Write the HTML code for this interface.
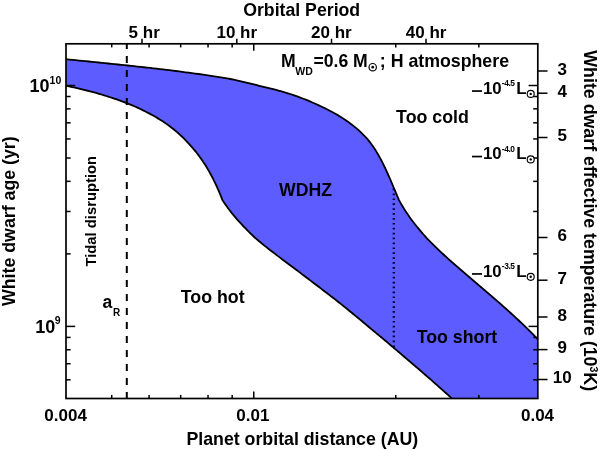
<!DOCTYPE html>
<html><head><meta charset="utf-8"><style>
html,body{margin:0;padding:0;background:#fff;}
svg{display:block;will-change:transform;}
text{font-family:"Liberation Sans",sans-serif;font-weight:bold;fill:#000;}
</style></head><body>
<svg width="600" height="449" viewBox="0 0 600 449">
<path d="M66.00,59.20 L69.28,59.54 L72.55,59.87 L75.82,60.20 L79.08,60.53 L82.35,60.86 L85.60,61.19 L88.86,61.52 L92.11,61.85 L95.36,62.18 L98.61,62.50 L101.85,62.83 L105.09,63.16 L108.33,63.49 L111.56,63.82 L114.80,64.16 L118.03,64.49 L121.25,64.83 L124.48,65.17 L127.70,65.51 L130.93,65.86 L134.15,66.21 L137.36,66.57 L140.58,66.92 L143.79,67.26 L147.01,67.61 L150.22,67.96 L153.43,68.32 L156.64,68.68 L159.85,69.05 L163.05,69.43 L166.26,69.81 L169.46,70.20 L172.67,70.60 L175.87,71.01 L179.08,71.42 L182.28,71.84 L185.48,72.27 L188.68,72.71 L191.89,73.14 L195.09,73.57 L198.29,74.01 L201.49,74.45 L204.70,74.91 L207.90,75.38 L211.10,75.86 L214.31,76.35 L217.51,76.85 L220.72,77.36 L223.92,77.89 L227.13,78.43 L230.34,79.00 L233.55,79.69 L236.76,80.40 L239.97,81.12 L243.19,81.86 L246.40,82.61 L249.62,83.37 L252.84,84.16 L256.05,84.96 L259.26,85.78 L262.47,86.53 L265.68,87.29 L268.88,88.06 L272.07,88.86 L275.26,89.69 L278.43,90.54 L281.60,91.42 L284.75,92.33 L287.89,93.27 L291.02,94.26 L294.13,95.33 L297.22,96.43 L300.30,97.56 L303.35,98.73 L306.39,99.94 L309.41,101.19 L312.40,102.47 L315.37,103.80 L318.31,105.17 L321.23,106.54 L324.12,107.89 L326.99,109.30 L329.82,110.74 L332.62,112.24 L335.39,113.79 L338.13,115.40 L340.83,117.05 L343.50,118.75 L346.13,120.50 L348.72,122.31 L351.26,124.19 L353.76,126.13 L356.21,128.14 L358.59,130.22 L360.92,132.35 L363.17,134.55 L365.35,136.82 L367.46,139.19 L369.49,141.63 L371.44,144.16 L373.31,146.82 L375.11,149.56 L376.85,152.36 L378.52,155.20 L380.12,158.07 L381.67,160.98 L383.16,163.90 L384.60,166.85 L386.00,169.81 L387.36,172.79 L388.69,175.77 L389.99,178.76 L391.27,181.75 L392.53,184.74 L393.78,187.73 L395.03,190.72 L396.28,193.69 L397.53,196.65 L398.80,199.60 L400.01,201.84 L401.26,204.08 L402.55,206.29 L403.87,208.47 L405.22,210.62 L406.61,212.75 L408.03,214.85 L409.48,216.92 L410.96,218.96 L412.47,220.99 L414.01,222.98 L415.58,224.97 L417.16,226.97 L418.78,228.94 L420.41,230.90 L422.07,232.83 L423.75,234.75 L425.45,236.65 L427.17,238.53 L428.90,240.40 L430.65,242.22 L432.42,243.97 L434.20,245.72 L436.00,247.45 L437.80,249.17 L439.62,250.88 L441.44,252.59 L443.27,254.28 L445.12,255.97 L446.96,257.66 L448.82,259.34 L450.67,261.00 L452.54,262.64 L454.41,264.28 L456.28,265.91 L458.16,267.54 L460.04,269.17 L461.92,270.79 L463.81,272.41 L465.70,274.03 L467.59,275.65 L469.48,277.26 L471.38,278.88 L473.28,280.49 L475.18,282.11 L477.08,283.73 L478.97,285.35 L480.87,286.97 L482.77,288.59 L484.67,290.21 L486.57,291.84 L488.46,293.46 L490.35,295.09 L492.25,296.72 L494.13,298.35 L496.02,299.99 L497.90,301.63 L499.78,303.27 L501.66,304.92 L503.53,306.58 L505.39,308.24 L507.26,309.91 L509.11,311.58 L510.96,313.26 L512.81,314.94 L514.64,316.63 L516.47,318.33 L518.30,320.03 L520.12,321.74 L521.92,323.46 L523.73,325.19 L525.52,326.92 L527.30,328.66 L529.08,330.41 L530.84,332.17 L532.60,333.94 L534.34,335.72 L536.07,337.51 L537.80,339.30 L538,398.5 L451.7,398.5 L451.70,398.31 L449.84,396.62 L447.98,394.95 L446.11,393.27 L444.25,391.59 L442.38,389.92 L440.50,388.25 L438.63,386.58 L436.75,384.91 L434.87,383.25 L432.99,381.59 L431.11,379.93 L429.22,378.27 L427.33,376.62 L425.44,374.97 L423.55,373.32 L421.65,371.67 L419.75,370.03 L417.85,368.39 L415.95,366.75 L414.04,365.11 L412.13,363.48 L410.22,361.85 L408.30,360.22 L406.38,358.60 L404.46,356.97 L402.54,355.32 L400.62,353.67 L398.69,352.03 L396.76,350.39 L394.82,348.76 L392.88,347.12 L390.94,345.47 L389.00,343.82 L387.05,342.17 L385.10,340.52 L383.15,338.88 L381.20,337.25 L379.24,335.61 L377.28,333.98 L375.31,332.35 L373.34,330.72 L371.37,329.10 L369.40,327.47 L367.42,325.80 L365.44,324.13 L363.46,322.47 L361.47,320.81 L359.48,319.16 L357.49,317.50 L355.49,315.86 L353.49,314.21 L351.48,312.57 L349.48,310.93 L347.46,309.30 L345.45,307.67 L343.43,306.04 L341.41,304.42 L339.39,302.80 L337.36,301.18 L335.33,299.57 L333.30,297.99 L331.26,296.43 L329.22,294.87 L327.18,293.31 L325.14,291.76 L323.10,290.20 L321.06,288.64 L319.02,287.09 L316.97,285.54 L314.93,283.98 L312.89,282.43 L310.84,280.88 L308.80,279.33 L306.75,277.77 L304.71,276.22 L302.67,274.66 L300.63,273.11 L298.59,271.55 L296.55,269.99 L294.52,268.44 L292.49,266.94 L290.46,265.44 L288.43,263.94 L286.40,262.44 L284.38,260.93 L282.36,259.41 L280.35,257.90 L278.34,256.38 L276.33,254.85 L274.33,253.32 L272.33,251.79 L270.33,250.25 L268.35,248.70 L266.36,247.15 L264.39,245.58 L262.42,243.99 L260.46,242.38 L258.52,240.77 L256.58,239.14 L254.66,237.47 L252.75,235.65 L250.86,233.82 L248.98,231.97 L247.13,230.11 L245.29,228.23 L243.47,226.33 L241.68,224.41 L239.91,222.47 L238.16,220.54 L236.44,218.59 L234.74,216.61 L233.08,214.61 L231.44,212.58 L229.83,210.52 L228.26,208.44 L226.71,206.33 L225.21,204.18 L223.73,202.01 L222.30,199.80 L221.56,197.87 L220.80,195.94 L220.02,194.02 L219.23,192.10 L218.41,190.20 L217.58,188.30 L216.73,186.41 L215.86,184.53 L214.97,182.65 L214.06,180.79 L213.13,178.94 L212.18,177.10 L211.21,175.27 L210.23,173.46 L209.22,171.66 L208.19,169.87 L207.14,168.09 L206.08,166.33 L204.99,164.58 L203.88,162.88 L202.75,161.19 L201.60,159.51 L200.43,157.86 L199.24,156.22 L198.03,154.60 L196.80,153.00 L195.55,151.41 L194.27,149.85 L192.98,148.31 L191.66,146.79 L190.32,145.29 L188.96,143.78 L187.58,142.27 L186.17,140.79 L184.75,139.33 L183.30,137.89 L181.83,136.47 L180.34,135.08 L178.83,133.71 L177.30,132.37 L175.75,131.04 L174.18,129.74 L172.59,128.46 L170.98,127.20 L169.36,125.98 L167.71,124.79 L166.05,123.63 L164.37,122.48 L162.68,121.36 L160.97,120.26 L159.24,119.18 L157.50,118.12 L155.74,117.08 L153.97,116.06 L152.19,115.06 L150.39,114.08 L148.57,113.12 L146.75,112.18 L144.91,111.24 L143.06,110.32 L141.20,109.41 L139.33,108.52 L137.44,107.65 L135.55,106.79 L133.65,105.96 L131.74,105.14 L129.81,104.34 L127.88,103.56 L125.94,102.79 L124.00,102.04 L122.04,101.31 L120.08,100.59 L118.11,99.89 L116.14,99.20 L114.16,98.54 L112.18,97.88 L110.19,97.24 L108.19,96.62 L106.19,96.01 L104.19,95.38 L102.19,94.76 L100.18,94.15 L98.17,93.55 L96.15,92.97 L94.14,92.40 L92.12,91.85 L90.11,91.31 L88.09,90.78 L86.07,90.27 L84.06,89.77 L82.04,89.28 L80.03,88.80 L78.02,88.34 L76.01,87.89 L74.00,87.45 L71.99,87.02 L69.99,86.60 L67.99,86.20 L66.00,85.80 Z" fill="#5c5cff" stroke="none"/>
<path d="M66.00,59.20 L69.28,59.54 L72.55,59.87 L75.82,60.20 L79.08,60.53 L82.35,60.86 L85.60,61.19 L88.86,61.52 L92.11,61.85 L95.36,62.18 L98.61,62.50 L101.85,62.83 L105.09,63.16 L108.33,63.49 L111.56,63.82 L114.80,64.16 L118.03,64.49 L121.25,64.83 L124.48,65.17 L127.70,65.51 L130.93,65.86 L134.15,66.21 L137.36,66.57 L140.58,66.92 L143.79,67.26 L147.01,67.61 L150.22,67.96 L153.43,68.32 L156.64,68.68 L159.85,69.05 L163.05,69.43 L166.26,69.81 L169.46,70.20 L172.67,70.60 L175.87,71.01 L179.08,71.42 L182.28,71.84 L185.48,72.27 L188.68,72.71 L191.89,73.14 L195.09,73.57 L198.29,74.01 L201.49,74.45 L204.70,74.91 L207.90,75.38 L211.10,75.86 L214.31,76.35 L217.51,76.85 L220.72,77.36 L223.92,77.89 L227.13,78.43 L230.34,79.00 L233.55,79.69 L236.76,80.40 L239.97,81.12 L243.19,81.86 L246.40,82.61 L249.62,83.37 L252.84,84.16 L256.05,84.96 L259.26,85.78 L262.47,86.53 L265.68,87.29 L268.88,88.06 L272.07,88.86 L275.26,89.69 L278.43,90.54 L281.60,91.42 L284.75,92.33 L287.89,93.27 L291.02,94.26 L294.13,95.33 L297.22,96.43 L300.30,97.56 L303.35,98.73 L306.39,99.94 L309.41,101.19 L312.40,102.47 L315.37,103.80 L318.31,105.17 L321.23,106.54 L324.12,107.89 L326.99,109.30 L329.82,110.74 L332.62,112.24 L335.39,113.79 L338.13,115.40 L340.83,117.05 L343.50,118.75 L346.13,120.50 L348.72,122.31 L351.26,124.19 L353.76,126.13 L356.21,128.14 L358.59,130.22 L360.92,132.35 L363.17,134.55 L365.35,136.82 L367.46,139.19 L369.49,141.63 L371.44,144.16 L373.31,146.82 L375.11,149.56 L376.85,152.36 L378.52,155.20 L380.12,158.07 L381.67,160.98 L383.16,163.90 L384.60,166.85 L386.00,169.81 L387.36,172.79 L388.69,175.77 L389.99,178.76 L391.27,181.75 L392.53,184.74 L393.78,187.73 L395.03,190.72 L396.28,193.69 L397.53,196.65 L398.80,199.60 L400.01,201.84 L401.26,204.08 L402.55,206.29 L403.87,208.47 L405.22,210.62 L406.61,212.75 L408.03,214.85 L409.48,216.92 L410.96,218.96 L412.47,220.99 L414.01,222.98 L415.58,224.97 L417.16,226.97 L418.78,228.94 L420.41,230.90 L422.07,232.83 L423.75,234.75 L425.45,236.65 L427.17,238.53 L428.90,240.40 L430.65,242.22 L432.42,243.97 L434.20,245.72 L436.00,247.45 L437.80,249.17 L439.62,250.88 L441.44,252.59 L443.27,254.28 L445.12,255.97 L446.96,257.66 L448.82,259.34 L450.67,261.00 L452.54,262.64 L454.41,264.28 L456.28,265.91 L458.16,267.54 L460.04,269.17 L461.92,270.79 L463.81,272.41 L465.70,274.03 L467.59,275.65 L469.48,277.26 L471.38,278.88 L473.28,280.49 L475.18,282.11 L477.08,283.73 L478.97,285.35 L480.87,286.97 L482.77,288.59 L484.67,290.21 L486.57,291.84 L488.46,293.46 L490.35,295.09 L492.25,296.72 L494.13,298.35 L496.02,299.99 L497.90,301.63 L499.78,303.27 L501.66,304.92 L503.53,306.58 L505.39,308.24 L507.26,309.91 L509.11,311.58 L510.96,313.26 L512.81,314.94 L514.64,316.63 L516.47,318.33 L518.30,320.03 L520.12,321.74 L521.92,323.46 L523.73,325.19 L525.52,326.92 L527.30,328.66 L529.08,330.41 L530.84,332.17 L532.60,333.94 L534.34,335.72 L536.07,337.51 L537.80,339.30" fill="none" stroke="#000" stroke-width="1.8"/>
<path d="M66.00,85.80 L67.99,86.20 L69.99,86.60 L71.99,87.02 L74.00,87.45 L76.01,87.89 L78.02,88.34 L80.03,88.80 L82.04,89.28 L84.06,89.77 L86.07,90.27 L88.09,90.78 L90.11,91.31 L92.12,91.85 L94.14,92.40 L96.15,92.97 L98.17,93.55 L100.18,94.15 L102.19,94.76 L104.19,95.38 L106.19,96.01 L108.19,96.62 L110.19,97.24 L112.18,97.88 L114.16,98.54 L116.14,99.20 L118.11,99.89 L120.08,100.59 L122.04,101.31 L124.00,102.04 L125.94,102.79 L127.88,103.56 L129.81,104.34 L131.74,105.14 L133.65,105.96 L135.55,106.79 L137.44,107.65 L139.33,108.52 L141.20,109.41 L143.06,110.32 L144.91,111.24 L146.75,112.18 L148.57,113.12 L150.39,114.08 L152.19,115.06 L153.97,116.06 L155.74,117.08 L157.50,118.12 L159.24,119.18 L160.97,120.26 L162.68,121.36 L164.37,122.48 L166.05,123.63 L167.71,124.79 L169.36,125.98 L170.98,127.20 L172.59,128.46 L174.18,129.74 L175.75,131.04 L177.30,132.37 L178.83,133.71 L180.34,135.08 L181.83,136.47 L183.30,137.89 L184.75,139.33 L186.17,140.79 L187.58,142.27 L188.96,143.78 L190.32,145.29 L191.66,146.79 L192.98,148.31 L194.27,149.85 L195.55,151.41 L196.80,153.00 L198.03,154.60 L199.24,156.22 L200.43,157.86 L201.60,159.51 L202.75,161.19 L203.88,162.88 L204.99,164.58 L206.08,166.33 L207.14,168.09 L208.19,169.87 L209.22,171.66 L210.23,173.46 L211.21,175.27 L212.18,177.10 L213.13,178.94 L214.06,180.79 L214.97,182.65 L215.86,184.53 L216.73,186.41 L217.58,188.30 L218.41,190.20 L219.23,192.10 L220.02,194.02 L220.80,195.94 L221.56,197.87 L222.30,199.80 L223.73,202.01 L225.21,204.18 L226.71,206.33 L228.26,208.44 L229.83,210.52 L231.44,212.58 L233.08,214.61 L234.74,216.61 L236.44,218.59 L238.16,220.54 L239.91,222.47 L241.68,224.41 L243.47,226.33 L245.29,228.23 L247.13,230.11 L248.98,231.97 L250.86,233.82 L252.75,235.65 L254.66,237.47 L256.58,239.14 L258.52,240.77 L260.46,242.38 L262.42,243.99 L264.39,245.58 L266.36,247.15 L268.35,248.70 L270.33,250.25 L272.33,251.79 L274.33,253.32 L276.33,254.85 L278.34,256.38 L280.35,257.90 L282.36,259.41 L284.38,260.93 L286.40,262.44 L288.43,263.94 L290.46,265.44 L292.49,266.94 L294.52,268.44 L296.55,269.99 L298.59,271.55 L300.63,273.11 L302.67,274.66 L304.71,276.22 L306.75,277.77 L308.80,279.33 L310.84,280.88 L312.89,282.43 L314.93,283.98 L316.97,285.54 L319.02,287.09 L321.06,288.64 L323.10,290.20 L325.14,291.76 L327.18,293.31 L329.22,294.87 L331.26,296.43 L333.30,297.99 L335.33,299.57 L337.36,301.18 L339.39,302.80 L341.41,304.42 L343.43,306.04 L345.45,307.67 L347.46,309.30 L349.48,310.93 L351.48,312.57 L353.49,314.21 L355.49,315.86 L357.49,317.50 L359.48,319.16 L361.47,320.81 L363.46,322.47 L365.44,324.13 L367.42,325.80 L369.40,327.47 L371.37,329.10 L373.34,330.72 L375.31,332.35 L377.28,333.98 L379.24,335.61 L381.20,337.25 L383.15,338.88 L385.10,340.52 L387.05,342.17 L389.00,343.82 L390.94,345.47 L392.88,347.12 L394.82,348.76 L396.76,350.39 L398.69,352.03 L400.62,353.67 L402.54,355.32 L404.46,356.97 L406.38,358.60 L408.30,360.22 L410.22,361.85 L412.13,363.48 L414.04,365.11 L415.95,366.75 L417.85,368.39 L419.75,370.03 L421.65,371.67 L423.55,373.32 L425.44,374.97 L427.33,376.62 L429.22,378.27 L431.11,379.93 L432.99,381.59 L434.87,383.25 L436.75,384.91 L438.63,386.58 L440.50,388.25 L442.38,389.92 L444.25,391.59 L446.11,393.27 L447.98,394.95 L449.84,396.62 L451.70,398.31" fill="none" stroke="#000" stroke-width="1.8"/>
<line x1="126.8" y1="43.8" x2="126.8" y2="398.5" stroke="#000" stroke-width="2" stroke-dasharray="7 7" stroke-dashoffset="1.8"/>
<line x1="393.8" y1="188.6" x2="393.8" y2="347" stroke="#00002a" stroke-width="2.3" stroke-dasharray="1.7 3.2"/>
<rect x="66" y="43.8" width="471.80" height="354.70" fill="none" stroke="#000" stroke-width="1.7"/>
<g stroke="#000" stroke-width="1.5">
<line x1="111.72" y1="398.5" x2="111.72" y2="394.9"/>
<line x1="111.72" y1="43.8" x2="111.72" y2="47.4"/>
<line x1="149.08" y1="398.5" x2="149.08" y2="394.9"/>
<line x1="149.08" y1="43.8" x2="149.08" y2="47.4"/>
<line x1="180.67" y1="398.5" x2="180.67" y2="394.9"/>
<line x1="180.67" y1="43.8" x2="180.67" y2="47.4"/>
<line x1="208.03" y1="398.5" x2="208.03" y2="394.9"/>
<line x1="208.03" y1="43.8" x2="208.03" y2="47.4"/>
<line x1="232.16" y1="398.5" x2="232.16" y2="394.9"/>
<line x1="232.16" y1="43.8" x2="232.16" y2="47.4"/>
<line x1="395.77" y1="398.5" x2="395.77" y2="394.9"/>
<line x1="395.77" y1="43.8" x2="395.77" y2="47.4"/>
<line x1="478.85" y1="398.5" x2="478.85" y2="394.9"/>
<line x1="478.85" y1="43.8" x2="478.85" y2="47.4"/>
<line x1="253.75" y1="398.5" x2="253.75" y2="391.5"/>
<line x1="253.75" y1="43.8" x2="253.75" y2="50.8"/>
<line x1="142.00" y1="43.8" x2="142.00" y2="38.8"/>
<line x1="236.80" y1="43.8" x2="236.80" y2="38.8"/>
<line x1="331.50" y1="43.8" x2="331.50" y2="38.8"/>
<line x1="426.00" y1="43.8" x2="426.00" y2="38.8"/>
<line x1="66" y1="379.84" x2="70.6" y2="379.84"/>
<line x1="537.8" y1="379.84" x2="533.1999999999999" y2="379.84"/>
<line x1="66" y1="363.72" x2="70.6" y2="363.72"/>
<line x1="537.8" y1="363.72" x2="533.1999999999999" y2="363.72"/>
<line x1="66" y1="349.75" x2="70.6" y2="349.75"/>
<line x1="537.8" y1="349.75" x2="533.1999999999999" y2="349.75"/>
<line x1="66" y1="337.42" x2="70.6" y2="337.42"/>
<line x1="537.8" y1="337.42" x2="533.1999999999999" y2="337.42"/>
<line x1="66" y1="253.88" x2="70.6" y2="253.88"/>
<line x1="537.8" y1="253.88" x2="533.1999999999999" y2="253.88"/>
<line x1="66" y1="211.46" x2="70.6" y2="211.46"/>
<line x1="537.8" y1="211.46" x2="533.1999999999999" y2="211.46"/>
<line x1="66" y1="181.36" x2="70.6" y2="181.36"/>
<line x1="537.8" y1="181.36" x2="533.1999999999999" y2="181.36"/>
<line x1="66" y1="158.02" x2="70.6" y2="158.02"/>
<line x1="537.8" y1="158.02" x2="533.1999999999999" y2="158.02"/>
<line x1="66" y1="138.94" x2="70.6" y2="138.94"/>
<line x1="537.8" y1="138.94" x2="533.1999999999999" y2="138.94"/>
<line x1="66" y1="122.82" x2="70.6" y2="122.82"/>
<line x1="537.8" y1="122.82" x2="533.1999999999999" y2="122.82"/>
<line x1="66" y1="108.85" x2="70.6" y2="108.85"/>
<line x1="537.8" y1="108.85" x2="533.1999999999999" y2="108.85"/>
<line x1="66" y1="96.52" x2="70.6" y2="96.52"/>
<line x1="537.8" y1="96.52" x2="533.1999999999999" y2="96.52"/>
<line x1="66" y1="85.50" x2="75.2" y2="85.50"/>
<line x1="537.8" y1="85.50" x2="528.5999999999999" y2="85.50"/>
<line x1="66" y1="326.40" x2="75.2" y2="326.40"/>
<line x1="537.8" y1="326.40" x2="528.5999999999999" y2="326.40"/>
<line x1="537.8" y1="71" x2="547.5" y2="71"/>
<line x1="537.8" y1="93.2" x2="547.5" y2="93.2"/>
<line x1="537.8" y1="137.5" x2="547.5" y2="137.5"/>
<line x1="537.8" y1="237.5" x2="547.5" y2="237.5"/>
<line x1="537.8" y1="280.2" x2="547.5" y2="280.2"/>
<line x1="537.8" y1="317" x2="547.5" y2="317"/>
<line x1="537.8" y1="349.6" x2="547.5" y2="349.6"/>
<line x1="537.8" y1="379.5" x2="547.5" y2="379.5"/>
</g>
<!-- titles -->
<text x="301.7" y="15.9" text-anchor="middle" font-size="17.7">Orbital Period</text>
<text x="144.2" y="37.5" text-anchor="middle" font-size="17">5 hr</text>
<text x="236.8" y="37.5" text-anchor="middle" font-size="17">10 hr</text>
<text x="331.4" y="37.5" text-anchor="middle" font-size="17">20 hr</text>
<text x="426.1" y="37.5" text-anchor="middle" font-size="17">40 hr</text>
<text x="65.6" y="420.8" text-anchor="middle" font-size="17">0.004</text>
<text x="252.8" y="420.8" text-anchor="middle" font-size="17">0.01</text>
<text x="537.5" y="420.8" text-anchor="middle" font-size="17">0.04</text>
<text x="302.3" y="444.7" text-anchor="middle" font-size="17.75">Planet orbital distance (AU)</text>
<text transform="translate(14.8,306.0) rotate(-90)" font-size="17.75">White dwarf age (yr)</text>
<text transform="translate(584.2,50.3) rotate(90)" font-size="17.8">White dwarf effective temperature (10<tspan font-size="10.5" dy="-6.2">3</tspan><tspan dy="6.2">K)</tspan></text>
<text x="29.5" y="92" font-size="18">10</text><text x="49.6" y="83.7" font-size="10.5">10</text>
<text x="35.2" y="332.6" font-size="18">10</text><text x="54.8" y="323.7" font-size="10.5">9</text>
<text x="562.2" y="74.5" text-anchor="middle" font-size="17">3</text>
<text x="562.2" y="96.7" text-anchor="middle" font-size="17">4</text>
<text x="562.2" y="141.0" text-anchor="middle" font-size="17">5</text>
<text x="562.2" y="241.0" text-anchor="middle" font-size="17">6</text>
<text x="562.2" y="283.7" text-anchor="middle" font-size="17">7</text>
<text x="562.2" y="320.5" text-anchor="middle" font-size="17">8</text>
<text x="562.2" y="353.1" text-anchor="middle" font-size="17">9</text>
<text x="562.2" y="383.0" text-anchor="middle" font-size="17">10</text>
<text x="281" y="66.6" font-size="17.6">M</text>
<text x="295.3" y="74.7" font-size="10.5">WD</text>
<text x="313.5" y="66.6" font-size="17.6">=0.6 M</text>
<circle cx="372.7" cy="67.2" r="3.7" fill="none" stroke="#000" stroke-width="1.2"/>
<circle cx="372.7" cy="67.2" r="1.35"/>
<text x="379.8" y="66.6" font-size="17.75">; H atmosphere</text>
<text x="396.1" y="122.5" font-size="17.8">Too cold</text>
<text x="279" y="195.6" font-size="17.65">WDHZ</text>
<text x="180.8" y="302.8" font-size="17.8">Too hot</text>
<text x="416.7" y="343" font-size="17.75">Too short</text>
<text transform="translate(96.4,266.6) rotate(-90)" font-size="14.8">Tidal disruption</text>
<text x="102.6" y="307.5" font-size="17.5">a</text>
<text x="113.1" y="316" font-size="10">R</text>
<rect x="472" y="90.2" width="10" height="1.7"/>
<text x="483" y="93.9" font-size="16.8">10</text>
<text x="501.8" y="86.1" font-size="8.4" letter-spacing="-0.4">-4.5</text>
<text x="516.3" y="93.9" font-size="16.8">L</text>
<circle cx="530.7" cy="93.9" r="3.5" fill="#fff" stroke="#000" stroke-width="1.15"/>
<circle cx="530.7" cy="93.9" r="1.2"/>
<rect x="472" y="155.7" width="10" height="1.7"/>
<text x="483" y="159.4" font-size="16.8">10</text>
<text x="501.8" y="151.6" font-size="8.4" letter-spacing="-0.4">-4.0</text>
<text x="516.3" y="159.4" font-size="16.8">L</text>
<circle cx="530.7" cy="159.4" r="3.5" fill="#fff" stroke="#000" stroke-width="1.15"/>
<circle cx="530.7" cy="159.4" r="1.2"/>
<rect x="472" y="273.1" width="10" height="1.7"/>
<text x="483" y="276.8" font-size="16.8">10</text>
<text x="501.8" y="269.0" font-size="8.4" letter-spacing="-0.4">-3.5</text>
<text x="516.3" y="276.8" font-size="16.8">L</text>
<circle cx="530.7" cy="276.8" r="3.5" fill="#fff" stroke="#000" stroke-width="1.15"/>
<circle cx="530.7" cy="276.8" r="1.2"/>
</svg>
</body></html>
